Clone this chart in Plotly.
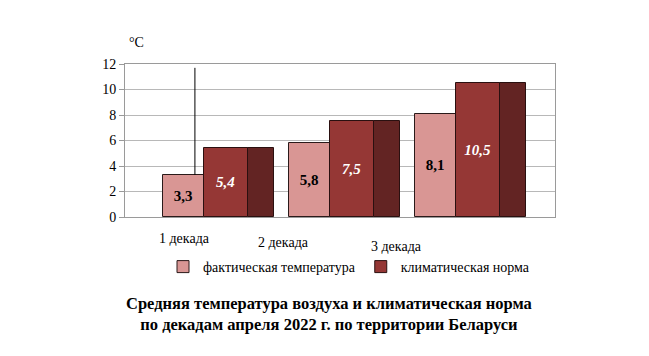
import plotly.graph_objects as go

categories = ["1 декада", "2 декада", "3 декада"]
actual = [3.3, 5.8, 8.1]
norm = [5.4, 7.5, 10.5]
y_ticks = [0, 2, 4, 6, 8, 10, 12]
series_names = ["фактическая температура", "климатическая норма"]
title_lines = ["Средняя температура воздуха и климатическая норма",
               "по декадам апреля 2022 г. по территории Беларуси"]

C_PINK = "#D99694"
C_RED = "#953735"
C_SIDE = "#632423"
FONT = "Liberation Serif"

# plot area in page pixels (page has an 8px body margin)
PX0, PX1, PY0, PY1 = 125, 555, 64, 217
BODY = 8


def px(x):
    return (x - PX0) / (PX1 - PX0)


def py(y):
    return (PY1 - y) / (PY1 - PY0)


idx = list(range(len(categories)))
fmt = lambda v: f"{v:.1f}".replace(".", ",")

fig = go.Figure()
fig.add_trace(go.Bar(
    x=[i - 0.17 for i in idx], y=actual, width=0.33, name=series_names[0],
    marker=dict(color=C_PINK, line=dict(color="#2a1a1a", width=1)),
    text=[fmt(v) for v in actual], textposition="inside", insidetextanchor="middle",
    textfont=dict(family=FONT, size=15, color="black", weight="bold"),
    textangle=0,
))
fig.add_trace(go.Bar(
    x=[i + 0.17 for i in idx], y=norm, width=0.35, name=series_names[1],
    marker=dict(color=C_RED, line=dict(color="#2a1010", width=1)),
    text=[fmt(v) for v in norm], textposition="inside", insidetextanchor="middle",
    textfont=dict(family=FONT, size=15, color="white", weight="bold", style="italic"),
    textangle=0,
))
fig.add_trace(go.Bar(
    x=[i + 0.445 for i in idx], y=norm, width=0.2, showlegend=False,
    marker=dict(color=C_SIDE, line=dict(color="#2a1010", width=1)),
    hoverinfo="skip",
))

# back-wall vertical line
fig.add_shape(type="line", xref="x", yref="y", x0=idx[0] - 0.08, x1=idx[0] - 0.08,
              y0=actual[0], y1=max(y_ticks) - 0.3, line=dict(color="black", width=1))

# category labels (perspective-shifted)
label_pos = [(184, 238), (283, 242), (396, 246)]
for c, (lx, ly) in zip(categories, label_pos):
    fig.add_annotation(text=c, x=px(lx), y=py(ly), xref="paper", yref="paper",
                       xanchor="center", yanchor="middle", showarrow=False,
                       font=dict(family=FONT, size=14, color="black"))

fig.add_annotation(text="°C", xref="paper", yref="paper", x=px(136), y=py(42),
                   xanchor="center", yanchor="middle", showarrow=False,
                   font=dict(family=FONT, size=14, color="black"))

fig.add_annotation(text="<b>" + "<br>".join(title_lines) + "</b>", xref="paper", yref="paper",
                   x=px(329), y=py(314), xanchor="center", yanchor="middle", showarrow=False,
                   font=dict(family=FONT, size=16.5, color="black"))

fig.update_layout(
    width=649, height=356,
    margin=dict(l=PX0 - BODY, r=649 - PX1 + BODY, t=PY0 - BODY, b=356 - PY1 + BODY,
                autoexpand=False),
    paper_bgcolor="white", plot_bgcolor="white",
    barmode="overlay", bargap=0,
    font=dict(family=FONT, size=14, color="black"),
    legend=dict(orientation="h", x=px(163), y=py(267), xanchor="left", yanchor="middle",
                font=dict(family=FONT, size=14, color="black"), itemwidth=30,
                traceorder="normal", tracegroupgap=0),
    showlegend=True,
)
fig.update_xaxes(range=[-0.635, 2.778], showticklabels=False, showgrid=False,
                 showline=True, linecolor="#9a9a9a", mirror=True, zeroline=False,
                 ticks="", fixedrange=True)
fig.update_yaxes(range=[0, 12], tickvals=y_ticks, showgrid=True, gridcolor="#b8b8b8",
                 showline=True, linecolor="#9a9a9a", mirror=True, zeroline=False,
                 ticks="outside", ticklen=5, tickcolor="#9a9a9a",
                 tickfont=dict(family=FONT, size=14, color="black"), fixedrange=True)

fig.write_html("out.html")
